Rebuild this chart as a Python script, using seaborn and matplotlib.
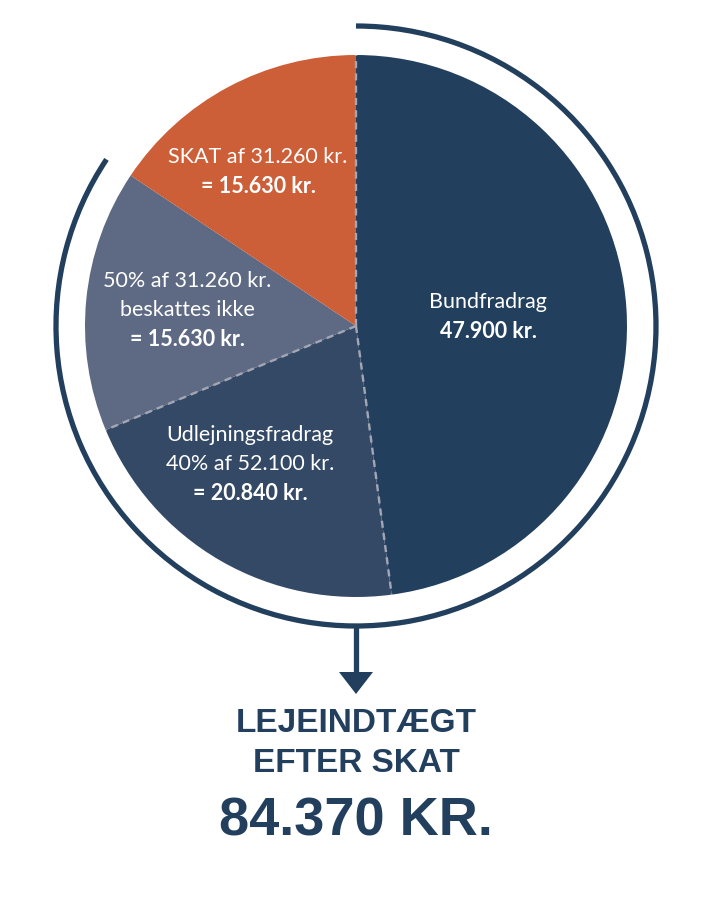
import numpy as np
import matplotlib
matplotlib.use("Agg")
import matplotlib.pyplot as plt
from matplotlib.patches import Arc, Polygon
import seaborn as sns

# ---- data ----
categories = ["Bundfradrag", "Udlejningsfradrag", "50% beskattes ikke", "SKAT"]
values = [47900, 20840, 15630, 15630]
colors = ["#233F5E", "#344966", "#5E6A83", "#CC5E38"]
label_lines = [
    [("Bundfradrag", "normal"), ("47.900 kr.", "bold")],
    [("Udlejningsfradrag", "normal"), ("40% af 52.100 kr.", "normal"), ("= 20.840 kr.", "bold")],
    [("50% af 31.260 kr.", "normal"), ("beskattes ikke", "normal"), ("= 15.630 kr.", "bold")],
    [("SKAT af 31.260 kr.", "normal"), ("= 15.630 kr.", "bold")],
]
title_lines = ["LEJEINDTÆGT", "EFTER SKAT"]
total_text = "84.370 KR."

sns.set_theme(style="white")
plt.rcParams["font.family"] = ["Lato", "DejaVu Sans"]

W, H = 713, 910
fig = plt.figure(figsize=(W / 100, H / 100), dpi=100)
ax = fig.add_axes([0, 0, 1, 1])

cx, cy = 356, H - 326
R = 271

ax.pie(values, colors=colors, startangle=90, counterclock=False,
       center=(cx, cy), radius=R, wedgeprops=dict(linewidth=0),
       frame=True)
ax.set_xlim(0, W)
ax.set_ylim(0, H)
ax.set_aspect("equal")
ax.axis("off")

# dashed separators (not between 50% and SKAT)
total = sum(values)
cum = np.cumsum([0] + values)
dash_color = "#A3A6B4"
for i in [0, 1, 2]:
    ang = np.deg2rad(90 - 360 * cum[i] / total)
    ax.plot([cx, cx + R * np.cos(ang)], [cy, cy + R * np.sin(ang)],
            color=dash_color, lw=1.7, ls=(0, (3, 2.2)), zorder=5)

# outer arc covering after-tax part
after_tax = sum(values[:3])
theta_start = 90 - 360 * after_tax / total
arc_color = "#233F5E"
ax.add_patch(Arc((cx, cy), 600, 600, theta1=theta_start + 360, theta2=450,
                 color=arc_color, lw=3.8, zorder=4))

# arrow
ax.plot([cx, cx], [H - 626, H - 674], color=arc_color, lw=3.8, solid_capstyle="butt")
ax.add_patch(Polygon([[cx - 17, H - 672], [cx + 17, H - 672], [cx, H - 694]],
                     closed=True, color=arc_color, lw=0))

# slice labels
label_pos = [(488, 302), (250, 435), (187, 281), (258, 157)]
for (lx, ly), lines in zip(label_pos, label_lines):
    for k, (txt, wt) in enumerate(lines):
        ax.text(lx, H - (ly + 29.5 * k), txt, ha="center", va="center",
                color="white", fontsize=15.5, fontweight=wt, zorder=6)

# bottom text
bfont = ["Liberation Sans", "DejaVu Sans"]
ax.text(cx, H - 723, title_lines[0], ha="center", va="center", color=arc_color,
        fontsize=24, fontweight="bold", family=bfont)
ax.text(cx, H - 764, title_lines[1], ha="center", va="center", color=arc_color,
        fontsize=24, fontweight="bold", family=bfont)
ax.text(cx, H - 822, total_text, ha="center", va="center", color=arc_color,
        fontsize=39, fontweight="bold", family=bfont)

fig.savefig("out.png", dpi=100, facecolor="white")
